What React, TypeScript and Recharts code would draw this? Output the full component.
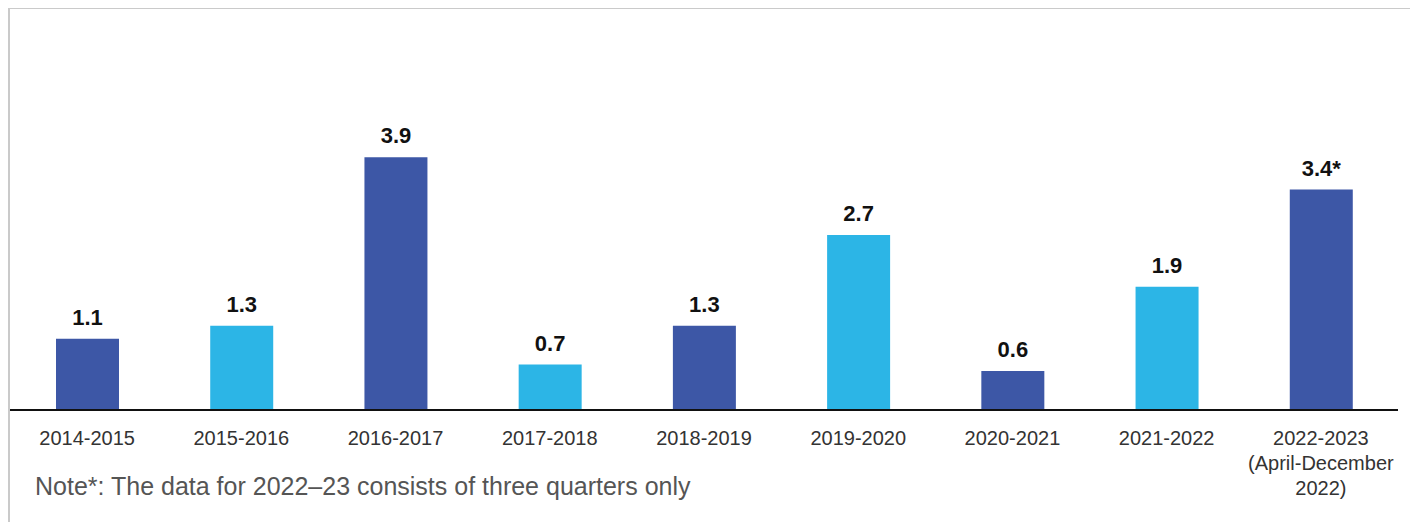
import React from 'react';
import { BarChart, Bar, XAxis, YAxis, Cell, LabelList } from 'recharts';

const periods = ['2014-2015', '2015-2016', '2016-2017', '2017-2018', '2018-2019', '2019-2020', '2020-2021', '2021-2022', '2022-2023'];
const values = [1.1, 1.3, 3.9, 0.7, 1.3, 2.7, 0.6, 1.9, 3.4];
const valueLabels = ['1.1', '1.3', '3.9', '0.7', '1.3', '2.7', '0.6', '1.9', '3.4*'];
const tickExtra: Record<string, string[]> = { '2022-2023': ['(April-December', '2022)'] };

const DARK = '#3d57a6';
const LIGHT = '#2cb5e6';
const FONT = '"Liberation Sans", Arial, sans-serif';

const data = periods.map((p, i) => ({ period: p, value: values[i], label: valueLabels[i] }));

const PeriodTick = (props: any) => {
  const { x, y, payload } = props;
  const lines = [payload.value, ...(tickExtra[payload.value] || [])];
  return (
    <text x={x} y={y} textAnchor="middle" fill="#333" fontSize={20} fontFamily={FONT}>
      {lines.map((l, i) => (
        <tspan key={i} x={x} dy={i === 0 ? 35 : 25}>{l}</tspan>
      ))}
    </text>
  );
};

const App: React.FC = () => {
  return (
    <div style={{ position: 'relative', boxSizing: 'border-box', width: 1405, height: 530, marginTop: -1, border: '2px solid #cacaca', background: '#fff' }}>
      <BarChart width={1401} height={514} data={data} margin={{ top: 12, right: 13, left: 0, bottom: 0 }} barCategoryGap={0}>
        <XAxis
          dataKey="period"
          axisLine={{ stroke: '#111', strokeWidth: 2 }}
          tickLine={false}
          tickSize={0}
          tickMargin={0}
          height={113}
          interval={0}
          tick={<PeriodTick />}
        />
        <YAxis hide domain={[0, 6]} />
        <Bar dataKey="value" barSize={63} isAnimationActive={false}>
          {data.map((d, i) => (
            <Cell key={`cell-${i}`} fill={i % 2 === 0 ? DARK : LIGHT} />
          ))}
          <LabelList dataKey="label" position="top" offset={14} fill="#111" fontSize={22} fontWeight="bold" fontFamily={FONT} />
        </Bar>
      </BarChart>
      <div style={{ position: 'absolute', left: 25, top: 463, fontFamily: FONT, fontSize: 25, color: '#555', whiteSpace: 'nowrap' }}>
        Note*: The data for 2022–23 consists of three quarters only
      </div>
    </div>
  );
};

export default App;
